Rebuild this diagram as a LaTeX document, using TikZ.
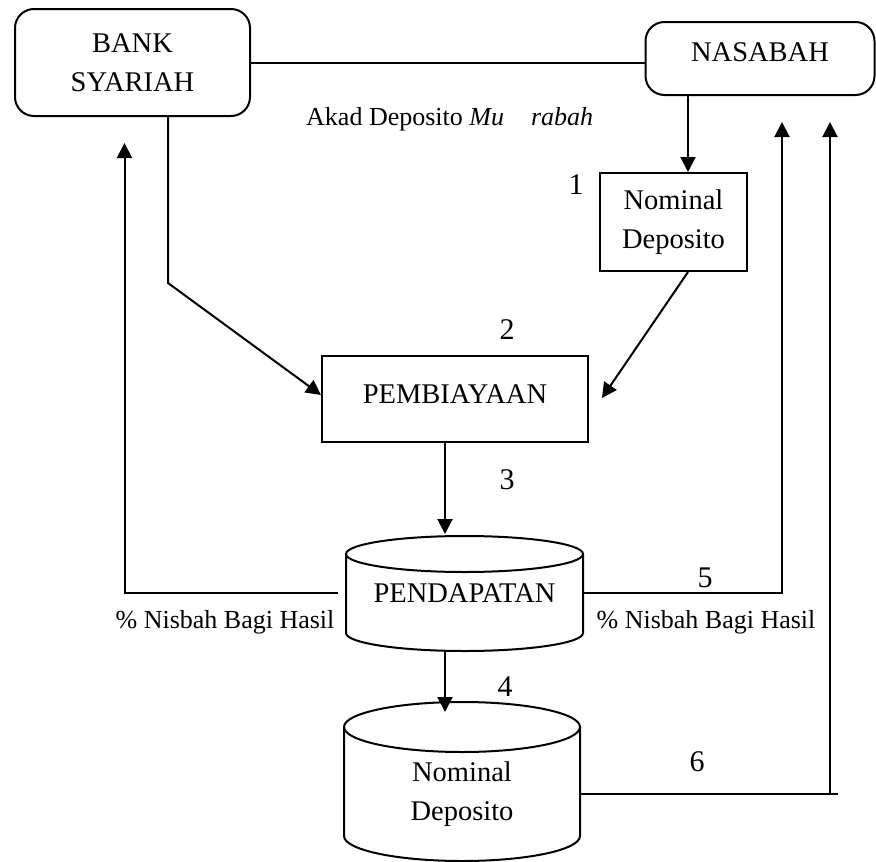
\documentclass[tikz,border=0pt]{standalone}
\usepackage{fontspec}
\setmainfont{Liberation Serif}
\usetikzlibrary{arrows.meta}
\begin{document}
\begin{tikzpicture}[x=1pt,y=1pt,
  ln/.style={line width=2pt},
  arr/.style={ln,-{Triangle[length=15pt,width=15pt]}},
  mainfont/.style={font=\fontsize{28.5}{39}\selectfont},
  boxnode/.style={draw,ln,mainfont,align=center,inner sep=0pt},
  rbox/.style={boxnode,rounded corners=19pt},
  plain/.style={mainfont,align=center,inner sep=0pt},
  num/.style={font=\fontsize{30}{36}\selectfont,inner sep=0pt},
  lbl/.style={font=\fontsize{26}{30}\selectfont,inner sep=0pt}]
\useasboundingbox (0,0) rectangle (876,-862);

% boxes
\node[rbox,minimum width=235,minimum height=107] (bank) at (132.5,-62.5) {BANK\\SYARIAH};
\node[rbox,minimum width=229,minimum height=73,text depth=13pt] (nasabah) at (760,-58.5) {NASABAH};
\node[boxnode,minimum width=147,minimum height=98] (nomA) at (673.5,-222) {Nominal\\Deposito};
\node[boxnode,minimum width=266,minimum height=86,text depth=10pt] (pemb) at (455,-399) {PEMBIAYAAN};

% cylinder PENDAPATAN
\draw[ln] (346,-554) -- (346,-633) arc[start angle=180,end angle=360,x radius=118.5pt,y radius=18pt] -- (583,-554);
\draw[ln] (464.5,-554) ellipse[x radius=118.5pt,y radius=18pt];
\node[plain,minimum width=237] (pend) at (464.5,-593) {PENDAPATAN};

% cylinder Nominal Deposito
\draw[ln] (344,-727) -- (344,-836) arc[start angle=180,end angle=360,x radius=118pt,y radius=25pt] -- (580,-727);
\draw[ln] (462,-727) ellipse[x radius=118pt,y radius=25pt];
\node[plain,minimum width=236] (nomB) at (462,-794) {Nominal\\Deposito};

% coordinates
\coordinate (pendB) at (445,-651);
\coordinate (nomBT) at (445,-712);
\coordinate (ltop) at (124.5,-143);
\coordinate (rtop1) at (782,-122);
\coordinate (j6) at (830,-794);
\coordinate (r6) at (838,-794);
\coordinate (rtop2) at (830,-122);

% connectors
\draw[ln] (bank.east) -- (bank.east -| nasabah.west);
\draw[arr] ([xshift=35.5pt]bank.south) -- ++(0,-166pt) -- ([yshift=4pt]pemb.west);
\draw[arr] ([xshift=-72pt]nasabah.south) -- ([xshift=-72pt]nasabah.south |- nomA.north);
\draw[arr] ([xshift=14.5pt]nomA.south) -- ([xshift=13pt,yshift=1pt]pemb.east);
\draw[arr] ([xshift=-10pt]pemb.south) -- ++(0,-91pt);
\draw[arr] (pendB) -- (nomBT);
\draw[arr] ([xshift=-8pt]pend.west) -| (ltop);
\draw[arr] (pend.east) -| (rtop1);
\draw[ln] (nomB.east) -- (r6);
\draw[arr] (j6) -- (rtop2);

% labels
\node[lbl,anchor=west] (akad) at (306,-119) {Akad Deposito \textit{Mu\hspace{27pt}rabah}};
\node[num] (n1) at (576,-185) {1};
\node[num] (n2) at (507,-330) {2};
\node[num] (n3) at (507,-480) {3};
\node[num] (n5) at (705,-578) {5};
\node[num] (n4) at (505,-687) {4};
\node[num] (n6) at (697,-762) {6};
\node[lbl] (nisL) at (225,-622) {\% Nisbah Bagi Hasil};
\node[lbl] (nisR) at (706,-622) {\% Nisbah Bagi Hasil};
\end{tikzpicture}
\end{document}
